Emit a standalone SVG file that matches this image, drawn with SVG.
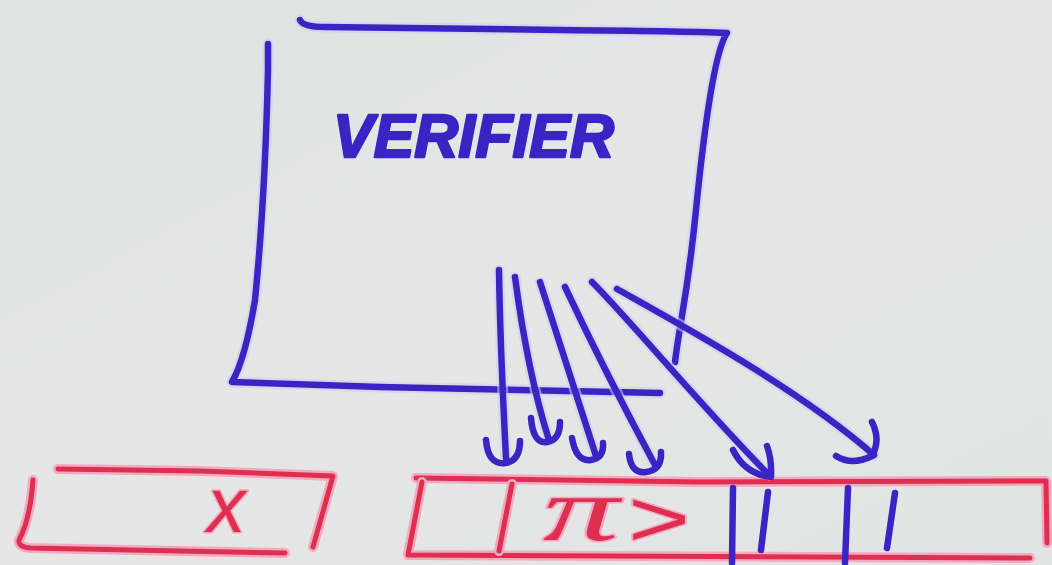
<svg xmlns="http://www.w3.org/2000/svg" width="1052" height="565" viewBox="0 0 1052 565">
<defs>
<linearGradient id="bg" x1="0" y1="0" x2="1" y2="1">
<stop offset="0" stop-color="#e0e2e2"/>
<stop offset="0.5" stop-color="#e5e6e5"/>
<stop offset="1" stop-color="#e2e4e4"/>
</linearGradient>
<style>
.bh{fill:none;stroke:#cfcaf3;stroke-width:11;stroke-linecap:round;stroke-linejoin:round;opacity:.55}
.b{fill:none;stroke:#3a24c4;stroke-width:6.5;stroke-linecap:round;stroke-linejoin:round}
.rh{fill:none;stroke:#f3a9c1;stroke-width:10;stroke-linecap:round;stroke-linejoin:round}
.r{fill:none;stroke:#de2f50;stroke-width:5;stroke-linecap:round;stroke-linejoin:round}
.rt{fill:#de2f50;stroke:#f3a9c1;stroke-width:3;paint-order:stroke;stroke-linejoin:round}
.title{font-family:"Liberation Sans",Arial,sans-serif;font-weight:bold;font-style:italic;fill:#3a24c4;stroke:#3a24c4;stroke-width:2.5;stroke-linejoin:round}
</style>
</defs>
<rect width="1052" height="565" fill="url(#bg)"/>

<g id="verifier">
<path class="bh" d="M300,20 Q303,27 325,27 L560,30 Q680,31 727,33 C715,50 705,120 696,210 S680,320 675,362"/>
<path class="b" d="M300,20 Q303,27 325,27 L560,30 Q680,31 727,33 C715,50 705,120 696,210 S680,320 675,362"/>
<path class="bh" d="M268,44 L268,70 Q265,200 255,300 Q245,360 232,382 L380,387 L660,393"/>
<path class="b" d="M268,44 L268,70 Q265,200 255,300 Q245,360 232,382 L380,387 L660,393"/>
<text class="title" x="333" y="157" font-size="62" textLength="281" lengthAdjust="spacingAndGlyphs">VERIFIER</text>
</g>

<g id="input-x">
<path class="rh" d="M58,469 L200,471 L333,476 L313,547"/>
<path class="r" d="M58,469 L200,471 L333,476 L313,547"/>
<path class="rh" d="M33,480 Q30,520 19,540 Q18,547 30,548 L285,553"/>
<path class="r" d="M33,480 Q30,520 19,540 Q18,547 30,548 L285,553"/>
<text class="rt" x="207" y="532" font-size="77" font-style="italic" font-family="Liberation Sans, Arial, sans-serif">x</text>
</g>

<g id="proof">
<path class="rh" d="M416,478 L700,482 L1046,481 L1047,543"/>
<path class="r" d="M416,478 L700,482 L1046,481 L1047,543"/>
<path class="rh" d="M422,482 L408,555 L1030,558"/>
<path class="r" d="M422,482 L408,555 L1030,558"/>
<path class="rh" d="M512,484 L499,551"/>
<path class="r" d="M512,484 L499,551"/>
<text class="rt" x="543" y="540" font-size="92" textLength="76" lengthAdjust="spacingAndGlyphs" font-style="italic" stroke-width="1.5" font-family="Liberation Serif, Times New Roman, serif">π</text>
<text class="rt" x="628" y="546" font-size="80" textLength="62" lengthAdjust="spacingAndGlyphs" font-family="Liberation Sans, Arial, sans-serif">&gt;</text>
<path class="b" d="M733,488 L732,563"/>
<path class="b" d="M768,492 L761,550"/>
<path class="b" d="M848,488 L845,563"/>
<path class="b" d="M895,493 L887,548"/>
</g>

<g id="connectors">
<path class="bh" d="M499,270 C500,340 503,400 506,458"/>
<path class="b" d="M499,270 C500,340 503,400 506,458"/>
<path class="b" d="M486,440 Q488,465 505,463 Q520,461 520,441"/>
<path class="bh" d="M515,277 C522,330 533,390 549,440"/>
<path class="b" d="M515,277 C522,330 533,390 549,440"/>
<path class="b" d="M531,418 Q533,444 547,442 Q560,440 560,422"/>
<path class="bh" d="M540,282 C555,330 575,390 596,456"/>
<path class="b" d="M540,282 C555,330 575,390 596,456"/>
<path class="b" d="M572,438 Q576,462 591,460 Q604,458 603,443"/>
<path class="bh" d="M565,287 C590,340 620,400 655,465"/>
<path class="b" d="M565,287 C590,340 620,400 655,465"/>
<path class="b" d="M629,454 Q631,474 646,472 Q662,470 661,452"/>
<path class="bh" d="M592,282 C630,320 700,405 769,475"/>
<path class="b" d="M592,282 C630,320 700,405 769,475"/>
<path class="b" d="M733,450 Q745,474 771,477 Q772,460 767,446"/>
<path class="bh" d="M617,289 C690,330 800,390 874,455"/>
<path class="b" d="M617,289 C690,330 800,390 874,455"/>
<path class="b" d="M836,456 Q852,466 872,456 Q881,440 872,422"/>
</g>
</svg>
